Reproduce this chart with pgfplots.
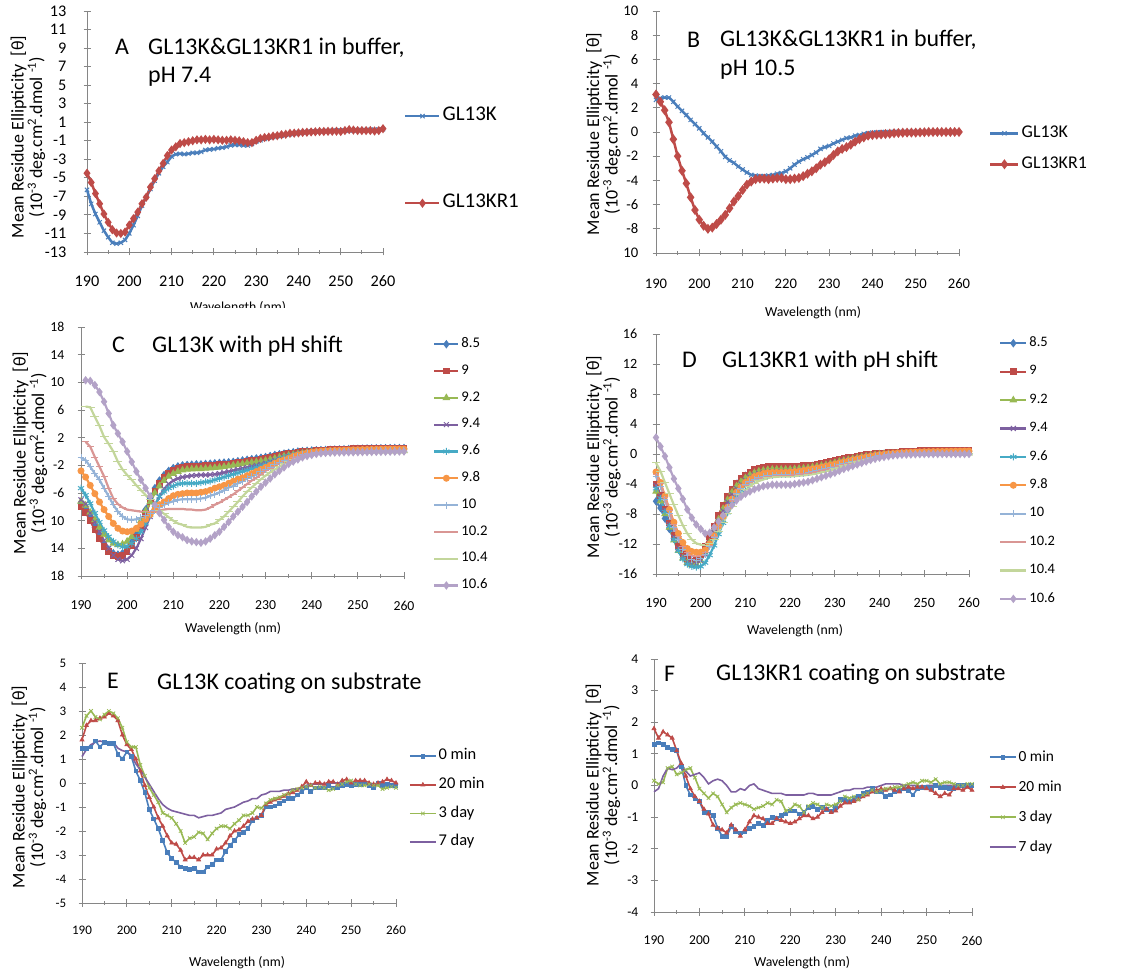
\documentclass[border=0pt]{standalone}
\usepackage{fontspec}
\setmainfont{Carlito}
\usepackage{pgfplots}
\pgfplotsset{compat=1.18}

\definecolor{axgray}{HTML}{868686}
\definecolor{cA}{HTML}{4A7EBB}
\definecolor{cB}{HTML}{BE4B48}
\definecolor{cC}{HTML}{98B954}
\definecolor{cD}{HTML}{7D60A0}
\definecolor{cE}{HTML}{46AAC5}
\definecolor{cF}{HTML}{F79646}
\definecolor{cG}{HTML}{95B3D7}
\definecolor{cH}{HTML}{D99694}
\definecolor{cI}{HTML}{C3D69B}
\definecolor{cJ}{HTML}{B3A2C7}

\newcommand\fs[1]{\fontsize{#1}{#1}\selectfont}
\newcommand\ylab{Mean Residue Ellipticity~~[θ]\\(10\textsuperscript{-3} deg.cm\textsuperscript{2}.dmol \textsuperscript{-1})}

\pgfplotsset{
  panel/.style={
    scale only axis, clip=false,
    axis lines=left,
    axis line style={-, draw=axgray, line width=0.9bp},
    tick style={draw=axgray, line width=0.9bp},
    tick align=center,
    major tick length=7bp, minor tick length=4bp,
    xmin=190, xmax=260, xtick={190,200,...,260}, minor x tick num=1,
    /pgf/number format/assume math mode=true,
    xticklabel style={anchor=center},
    yticklabel style={anchor=east, inner sep=0pt},
    legend cell align=left,
    legend style={draw=none, fill=none, inner sep=0pt, column sep=2bp},
  },
}
\tikzset{
  ttl/.style={anchor=base west, inner sep=0pt, font=\fontsize{24}{24}\selectfont},
  ylb/.style={rotate=90, align=center, inner sep=0pt, font=\fontsize{18}{18.5}\selectfont},
  xlb/.style={anchor=base, inner sep=0pt, font=\fs{13.8}},
}

\begin{document}
\begin{tikzpicture}
\useasboundingbox (0,0) rectangle (1139bp,973bp);

% ---------------- A ----------------
\begin{axis}[panel, at={(87bp,721bp)}, anchor=south west, width=296bp, height=241bp,
  ymin=-13, ymax=13, ytick={-13,-11,...,13},
  tick label style={font=\fs{16.3}},
  yticklabel style={xshift=-17bp}, xticklabel style={yshift=-26bp},
  legend style={at={(1.071,0.600)}, anchor=north west, font=\fs{21}, row sep=70bp,
    nodes={inner sep=0pt, text height=13.3bp, text depth=3.8bp}},
  legend image code/.code={\draw[mark repeat=2,mark phase=2,#1] plot coordinates {(0bp,0bp)(17bp,0bp)(34bp,0bp)};},
]
\addplot[cA, line width=2.5bp, mark=x, mark size=3, mark options={solid, line width=1bp}] coordinates {
(190,-6.3)(191,-7.8)(192,-8.9)(193,-9.8)(194,-10.7)(195,-11.4)(196,-12.0)(197,-12.1)(198,-12.0)(199,-11.7)
(200,-11.0)(201,-10.1)(202,-9.1)(203,-8.0)(204,-7.1)(205,-6.2)(206,-5.3)(207,-4.5)(208,-3.8)(209,-3.3)
(210,-2.7)(211,-2.45)(212,-2.4)(213,-2.45)(214,-2.4)(215,-2.3)(216,-2.3)(217,-2.2)(218,-2.0)(219,-1.95)
(220,-1.9)(221,-1.8)(222,-1.75)(223,-1.65)(224,-1.5)(225,-1.45)(226,-1.45)(227,-1.5)(228,-1.5)(229,-1.35)
(230,-1.1)(231,-0.95)(232,-0.8)(233,-0.65)(234,-0.6)(235,-0.5)(236,-0.45)(237,-0.35)(238,-0.3)(239,-0.2)
(240,-0.15)(241,-0.1)(242,-0.05)(243,0)(244,0)(245,0.02)(246,0.05)(247,0.05)(248,0.07)(249,0.1)
(250,0.1)(251,0.1)(252,0.12)(253,0.12)(254,0.15)(255,0.15)(256,0.15)(257,0.18)(258,0.2)(259,0.2)(260,0.25)};
\addplot[cB, line width=2.5bp, mark=diamond*, mark size=2.6, mark options={solid}] coordinates {
(190,-4.5)(191,-5.5)(192,-6.7)(193,-7.8)(194,-8.9)(195,-9.8)(196,-10.6)(197,-10.95)(198,-11.0)(199,-10.85)
(200,-10.1)(201,-9.4)(202,-8.7)(203,-7.8)(204,-7.1)(205,-6.0)(206,-5.1)(207,-4.25)(208,-3.45)(209,-2.6)
(210,-2.0)(211,-1.65)(212,-1.3)(213,-1.2)(214,-1.1)(215,-1.0)(216,-0.9)(217,-0.9)(218,-0.85)(219,-0.9)
(220,-0.85)(221,-0.9)(222,-0.95)(223,-0.95)(224,-0.9)(225,-0.95)(226,-1.0)(227,-1.1)(228,-1.2)(229,-1.2)
(230,-0.95)(231,-0.75)(232,-0.65)(233,-0.6)(234,-0.5)(235,-0.45)(236,-0.35)(237,-0.3)(238,-0.2)(239,-0.18)
(240,-0.15)(241,-0.1)(242,-0.08)(243,-0.05)(244,-0.03)(245,0)(246,0)(247,0.02)(248,0.02)(249,0.03)
(250,0)(251,0.1)(252,0.2)(253,0.15)(254,0.1)(255,0.1)(256,0.1)(257,0.1)(258,0.05)(259,0.1)(260,0.3)};
\legend{GL13K,GL13KR1}
\end{axis}

% ---------------- B ----------------
\begin{axis}[panel, at={(656bp,720bp)}, anchor=south west, width=303bp, height=242bp,
  ymin=-10, ymax=10, ytick={-10,-8,...,10}, yticklabels={10,-8,-6,-4,-2,0,2,4,6,8,10},
  tick label style={font=\fs{14.7}},
  yticklabel style={xshift=-14bp}, xticklabel style={yshift=-27bp},
  legend style={at={(1.099,0.529)}, anchor=north west, font=\fs{18}, row sep=14.8bp,
    nodes={inner sep=0pt, text height=12.6bp, text depth=3.6bp}},
  legend image code/.code={\draw[mark repeat=2,mark phase=2,#1] plot coordinates {(0bp,0bp)(14bp,0bp)(28bp,0bp)};},
]
\addplot[cA, line width=2.5bp, mark=x, mark size=3, mark options={solid, line width=1bp}] coordinates {
(190,2.65)(191,2.8)(192,2.85)(193,2.85)(194,2.5)(195,2.1)(196,1.75)(197,1.4)(198,1.0)(199,0.65)
(200,0.3)(201,-0.1)(202,-0.45)(203,-0.8)(204,-1.2)(205,-1.6)(206,-2.05)(207,-2.35)(208,-2.55)(209,-2.85)
(210,-3.1)(211,-3.35)(212,-3.55)(213,-3.6)(214,-3.65)(215,-3.65)(216,-3.6)(217,-3.55)(218,-3.45)(219,-3.4)
(220,-3.25)(221,-3.0)(222,-2.7)(223,-2.45)(224,-2.25)(225,-2.1)(226,-1.9)(227,-1.7)(228,-1.4)(229,-1.25)
(230,-1.15)(231,-0.95)(232,-0.8)(233,-0.65)(234,-0.5)(235,-0.45)(236,-0.3)(237,-0.25)(238,-0.15)(239,-0.1)
(240,-0.05)(241,-0.03)(242,-0.02)(243,0)(244,0)(245,0)(246,0)(247,0)(248,0)(249,0)
(250,0)(251,0)(252,0)(253,0)(254,0)(255,0)(256,0)(257,0)(258,0)(259,0)(260,0)};
\addplot[cB, line width=2.5bp, mark=diamond*, mark size=3, mark options={solid}] coordinates {
(190,3.1)(191,2.5)(192,1.8)(193,0.8)(194,-0.6)(195,-2.0)(196,-3.2)(197,-4.25)(198,-5.4)(199,-6.45)
(200,-7.25)(201,-7.75)(202,-8.0)(203,-7.9)(204,-7.6)(205,-7.25)(206,-6.85)(207,-6.3)(208,-5.75)(209,-5.3)
(210,-4.8)(211,-4.35)(212,-4.1)(213,-3.9)(214,-3.85)(215,-3.85)(216,-3.9)(217,-3.85)(218,-3.8)(219,-3.8)
(220,-3.9)(221,-3.9)(222,-3.85)(223,-3.8)(224,-3.65)(225,-3.45)(226,-3.25)(227,-3.0)(228,-2.7)(229,-2.5)
(230,-2.25)(231,-1.9)(232,-1.6)(233,-1.4)(234,-1.25)(235,-1.05)(236,-0.8)(237,-0.6)(238,-0.45)(239,-0.3)
(240,-0.25)(241,-0.22)(242,-0.2)(243,-0.17)(244,-0.14)(245,-0.1)(246,-0.08)(247,-0.06)(248,-0.05)(249,-0.05)
(250,-0.05)(251,-0.03)(252,-0.02)(253,0)(254,0)(255,0)(256,0)(257,0)(258,0)(259,0)(260,0)};
\legend{GL13K,GL13KR1}
\end{axis}

% ---------------- C ----------------
\begin{axis}[panel, at={(81bp,397bp)}, anchor=south west, width=323bp, height=249bp,
  ymin=-18, ymax=18, ytick={-18,-14,...,18}, yticklabels={18,14,10,-6,-2,2,6,10,14,18},
  tick label style={font=\fs{13.8}},
  yticklabel style={xshift=-13bp}, xticklabel style={yshift=-26bp},
  legend style={at={(1.090,0.955)}, anchor=north west, font=\fs{14.8}, row sep=15.1bp,
    nodes={inner sep=0pt, text height=9.1bp, text depth=2.6bp}},
  legend image code/.code={\draw[mark repeat=2,mark phase=2,#1] plot coordinates {(0bp,0bp)(12bp,0bp)(24bp,0bp)};},
  every axis plot/.append style={line width=2.2bp, mark options={solid, line width=1bp}},
]
\addplot[cA, mark=diamond*, mark size=3.5] coordinates {
(190,-7.6)(191,-8.5)(192,-9.7)(193,-11.0)(194,-12.3)(195,-13.4)(196,-14.2)(197,-14.7)(198,-14.9)(199,-14.7)
(200,-14.1)(201,-13.1)(202,-11.8)(203,-10.2)(204,-8.4)(205,-6.8)(206,-5.3)(207,-4.2)(208,-3.4)(209,-2.8)
(210,-2.4)(211,-2.15)(212,-2.0)(213,-1.95)(214,-1.9)(215,-1.85)(216,-1.85)(217,-1.8)(218,-1.75)(219,-1.7)
(220,-1.65)(221,-1.6)(222,-1.55)(223,-1.5)(224,-1.4)(225,-1.3)(226,-1.2)(227,-1.1)(228,-1.0)(229,-0.9)
(230,-0.8)(231,-0.65)(232,-0.5)(233,-0.4)(234,-0.3)(235,-0.2)(236,-0.1)(237,0)(238,0.05)(239,0.1)
(240,0.15)(241,0.18)(242,0.2)(243,0.22)(244,0.25)(245,0.28)(246,0.3)(247,0.32)(248,0.35)(249,0.38)
(250,0.4)(251,0.42)(252,0.44)(253,0.45)(254,0.46)(255,0.47)(256,0.48)(257,0.49)(258,0.5)(259,0.5)(260,0.5)};
\addplot[cB, mark=square*, mark size=2.8] coordinates {
(190,-8.0)(191,-8.8)(192,-10.0)(193,-11.3)(194,-12.6)(195,-13.7)(196,-14.5)(197,-15.0)(198,-15.2)(199,-15.0)
(200,-14.5)(201,-13.6)(202,-12.4)(203,-10.8)(204,-9.0)(205,-7.3)(206,-5.8)(207,-4.6)(208,-3.7)(209,-3.1)
(210,-2.7)(211,-2.4)(212,-2.25)(213,-2.2)(214,-2.15)(215,-2.1)(216,-2.1)(217,-2.05)(218,-2.0)(219,-1.95)
(220,-1.9)(221,-1.85)(222,-1.8)(223,-1.7)(224,-1.6)(225,-1.5)(226,-1.4)(227,-1.3)(228,-1.2)(229,-1.1)
(230,-1.0)(231,-0.85)(232,-0.7)(233,-0.55)(234,-0.4)(235,-0.3)(236,-0.2)(237,-0.1)(238,0)(239,0.05)
(240,0.1)(241,0.14)(242,0.18)(243,0.22)(244,0.26)(245,0.3)(246,0.33)(247,0.36)(248,0.38)(249,0.4)
(250,0.42)(251,0.44)(252,0.46)(253,0.47)(254,0.48)(255,0.49)(256,0.5)(257,0.5)(258,0.5)(259,0.5)(260,0.5)};
\addplot[cC, mark=triangle*, mark size=3.5] coordinates {
(190,-7.2)(191,-7.8)(192,-8.8)(193,-9.9)(194,-11.0)(195,-12.0)(196,-12.8)(197,-13.3)(198,-13.5)(199,-13.4)
(200,-13.0)(201,-12.3)(202,-11.3)(203,-10.0)(204,-8.6)(205,-7.3)(206,-6.0)(207,-5.0)(208,-4.2)(209,-3.6)
(210,-3.2)(211,-2.9)(212,-2.7)(213,-2.6)(214,-2.55)(215,-2.5)(216,-2.5)(217,-2.45)(218,-2.4)(219,-2.35)
(220,-2.3)(221,-2.2)(222,-2.1)(223,-2.0)(224,-1.9)(225,-1.8)(226,-1.7)(227,-1.6)(228,-1.5)(229,-1.4)
(230,-1.3)(231,-1.15)(232,-1.0)(233,-0.85)(234,-0.7)(235,-0.55)(236,-0.45)(237,-0.35)(238,-0.25)(239,-0.15)
(240,-0.1)(241,-0.08)(242,-0.06)(243,-0.04)(244,-0.02)(245,0)(246,0.01)(247,0.02)(248,0.03)(249,0.04)
(250,0.05)(251,0.06)(252,0.07)(253,0.08)(254,0.08)(255,0.09)(256,0.09)(257,0.1)(258,0.1)(259,0.1)(260,0.1)};
\addplot[cD, mark=x, mark size=3.5] coordinates {
(190,-7.0)(191,-7.6)(192,-8.9)(193,-10.2)(194,-11.6)(195,-12.9)(196,-14.0)(197,-15.0)(198,-15.6)(199,-15.8)
(200,-15.6)(201,-15.0)(202,-14.0)(203,-12.6)(204,-11.0)(205,-9.4)(206,-7.9)(207,-6.5)(208,-5.4)(209,-4.7)
(210,-4.2)(211,-3.9)(212,-3.7)(213,-3.6)(214,-3.5)(215,-3.45)(216,-3.4)(217,-3.4)(218,-3.35)(219,-3.3)
(220,-3.2)(221,-3.05)(222,-2.9)(223,-2.75)(224,-2.6)(225,-2.45)(226,-2.3)(227,-2.15)(228,-2.0)(229,-1.85)
(230,-1.7)(231,-1.5)(232,-1.3)(233,-1.1)(234,-0.9)(235,-0.7)(236,-0.55)(237,-0.4)(238,-0.3)(239,-0.2)
(240,-0.1)(241,-0.05)(242,0)(243,0.03)(244,0.06)(245,0.1)(246,0.12)(247,0.14)(248,0.16)(249,0.18)
(250,0.2)(251,0.21)(252,0.22)(253,0.23)(254,0.24)(255,0.25)(256,0.25)(257,0.25)(258,0.25)(259,0.25)(260,0.25)};
\addplot[cE, mark=asterisk, mark size=3.5] coordinates {
(190,-5.3)(191,-6.3)(192,-7.5)(193,-8.9)(194,-10.2)(195,-11.4)(196,-12.3)(197,-13.0)(198,-13.5)(199,-13.8)
(200,-13.7)(201,-13.3)(202,-12.6)(203,-11.6)(204,-10.4)(205,-9.2)(206,-7.7)(207,-6.5)(208,-5.8)(209,-5.3)
(210,-5.0)(211,-4.7)(212,-4.6)(213,-4.6)(214,-4.6)(215,-4.6)(216,-4.5)(217,-4.4)(218,-4.3)(219,-4.1)
(220,-3.9)(221,-3.7)(222,-3.5)(223,-3.3)(224,-3.1)(225,-2.9)(226,-2.7)(227,-2.5)(228,-2.3)(229,-2.1)
(230,-1.9)(231,-1.65)(232,-1.4)(233,-1.15)(234,-0.9)(235,-0.7)(236,-0.55)(237,-0.4)(238,-0.25)(239,-0.15)
(240,-0.05)(241,-0.02)(242,0)(243,0.03)(244,0.06)(245,0.1)(246,0.11)(247,0.12)(248,0.13)(249,0.14)
(250,0.15)(251,0.16)(252,0.17)(253,0.18)(254,0.18)(255,0.19)(256,0.19)(257,0.2)(258,0.2)(259,0.2)(260,0.2)};
\addplot[cF, mark=*, mark size=3] coordinates {
(190,-2.8)(191,-3.7)(192,-4.9)(193,-6.1)(194,-7.3)(195,-8.4)(196,-9.4)(197,-10.4)(198,-11.1)(199,-11.5)
(200,-11.6)(201,-11.5)(202,-11.1)(203,-10.5)(204,-9.8)(205,-9.1)(206,-8.4)(207,-7.7)(208,-7.3)(209,-6.8)
(210,-6.4)(211,-6.2)(212,-6.1)(213,-6.0)(214,-6.0)(215,-6.0)(216,-5.9)(217,-5.8)(218,-5.6)(219,-5.3)
(220,-5.1)(221,-4.9)(222,-4.6)(223,-4.3)(224,-4.0)(225,-3.8)(226,-3.5)(227,-3.2)(228,-2.9)(229,-2.6)
(230,-2.3)(231,-2.0)(232,-1.7)(233,-1.4)(234,-1.2)(235,-1.0)(236,-0.7)(237,-0.5)(238,-0.35)(239,-0.2)
(240,-0.1)(241,-0.02)(242,0.05)(243,0.08)(244,0.12)(245,0.15)(246,0.17)(247,0.19)(248,0.21)(249,0.23)
(250,0.25)(251,0.27)(252,0.29)(253,0.3)(254,0.32)(255,0.33)(256,0.34)(257,0.35)(258,0.35)(259,0.35)(260,0.35)};
\addplot[cG, mark=+, mark size=3.5] coordinates {
(190,-0.9)(191,-1.25)(192,-2.2)(193,-3.2)(194,-4.1)(195,-5.3)(196,-6.5)(197,-7.7)(198,-8.7)(199,-9.4)
(200,-9.8)(201,-9.9)(202,-9.8)(203,-9.6)(204,-9.3)(205,-9.0)(206,-8.6)(207,-8.1)(208,-7.7)(209,-7.4)
(210,-7.2)(211,-7.0)(212,-6.9)(213,-6.9)(214,-6.9)(215,-6.9)(216,-6.8)(217,-6.7)(218,-6.4)(219,-6.2)
(220,-5.9)(221,-5.6)(222,-5.2)(223,-5.0)(224,-4.6)(225,-4.3)(226,-3.9)(227,-3.6)(228,-3.3)(229,-2.9)
(230,-2.6)(231,-2.3)(232,-1.9)(233,-1.6)(234,-1.35)(235,-1.1)(236,-0.9)(237,-0.7)(238,-0.5)(239,-0.35)
(240,-0.25)(241,-0.18)(242,-0.1)(243,-0.06)(244,-0.03)(245,0)(246,0.01)(247,0.02)(248,0.03)(249,0.04)
(250,0.05)(251,0.06)(252,0.07)(253,0.08)(254,0.08)(255,0.09)(256,0.09)(257,0.1)(258,0.1)(259,0.1)(260,0.1)};
\addplot[cH, mark=-, mark size=3.5] coordinates {
(191,1.4)(192,0.7)(193,-0.8)(194,-2.2)(195,-3.6)(196,-5.3)(197,-6.8)(198,-7.6)(199,-8.1)
(200,-8.4)(201,-8.5)(202,-8.6)(203,-8.7)(204,-8.7)(205,-8.7)(206,-8.7)(207,-8.5)(208,-8.4)(209,-8.3)
(210,-8.3)(211,-8.3)(212,-8.3)(213,-8.4)(214,-8.4)(215,-8.5)(216,-8.5)(217,-8.4)(218,-8.1)(219,-7.7)
(220,-7.4)(221,-7.0)(222,-6.6)(223,-6.2)(224,-5.7)(225,-5.2)(226,-4.7)(227,-4.2)(228,-3.8)(229,-3.3)
(230,-2.8)(231,-2.4)(232,-2.1)(233,-1.7)(234,-1.4)(235,-1.15)(236,-0.9)(237,-0.7)(238,-0.6)(239,-0.45)
(240,-0.35)(241,-0.28)(242,-0.2)(243,-0.16)(244,-0.13)(245,-0.1)(246,-0.09)(247,-0.08)(248,-0.07)(249,-0.06)
(250,-0.05)(251,-0.03)(252,-0.01)(253,0.01)(254,0.03)(255,0.05)(256,0.06)(257,0.07)(258,0.08)(259,0.09)(260,0.1)};
\addplot[cI, mark=-, mark size=4.5] coordinates {
(191,6.5)(192,6.4)(193,5.0)(194,3.7)(195,2.1)(196,1.1)(197,0)(198,-1.5)(199,-2.6)
(200,-3.4)(201,-4.1)(202,-4.9)(203,-5.6)(204,-6.3)(205,-7.0)(206,-7.7)(207,-8.5)(208,-9.0)(209,-9.5)
(210,-10.0)(211,-10.4)(212,-10.6)(213,-10.9)(214,-11.0)(215,-11.0)(216,-11.0)(217,-10.9)(218,-10.6)(219,-10.4)
(220,-9.9)(221,-9.4)(222,-8.7)(223,-8.0)(224,-7.3)(225,-6.5)(226,-5.8)(227,-5.2)(228,-4.6)(229,-4.0)
(230,-3.5)(231,-3.0)(232,-2.6)(233,-2.2)(234,-1.8)(235,-1.5)(236,-1.2)(237,-1.0)(238,-0.8)(239,-0.6)
(240,-0.45)(241,-0.38)(242,-0.3)(243,-0.27)(244,-0.23)(245,-0.2)(246,-0.19)(247,-0.18)(248,-0.17)(249,-0.16)
(250,-0.15)(251,-0.14)(252,-0.14)(253,-0.13)(254,-0.13)(255,-0.12)(256,-0.12)(257,-0.11)(258,-0.11)(259,-0.1)(260,-0.1)};
\addplot[cJ, mark=diamond*, mark size=3.5] coordinates {
(191,10.3)(192,10.2)(193,9.6)(194,8.6)(195,7.2)(196,5.5)(197,3.8)(198,2.6)(199,1.4)
(200,0)(201,-1.5)(202,-2.9)(203,-4.1)(204,-5.3)(205,-6.5)(206,-7.7)(207,-8.9)(208,-9.9)(209,-10.9)
(210,-11.6)(211,-12.1)(212,-12.4)(213,-12.8)(214,-13.0)(215,-13.1)(216,-13.2)(217,-13.0)(218,-12.6)(219,-12.1)
(220,-11.6)(221,-10.9)(222,-10.2)(223,-9.4)(224,-8.7)(225,-8.0)(226,-7.3)(227,-6.5)(228,-5.8)(229,-5.1)
(230,-4.5)(231,-3.9)(232,-3.3)(233,-2.8)(234,-2.3)(235,-1.8)(236,-1.45)(237,-1.15)(238,-0.85)(239,-0.65)
(240,-0.5)(241,-0.35)(242,-0.25)(243,-0.2)(244,-0.17)(245,-0.15)(246,-0.14)(247,-0.13)(248,-0.12)(249,-0.11)
(250,-0.1)(251,-0.09)(252,-0.08)(253,-0.07)(254,-0.06)(255,-0.05)(256,-0.04)(257,-0.03)(258,-0.02)(259,-0.01)(260,0)};
\legend{8.5,9,9.2,9.4,9.6,9.8,10,10.2,10.4,10.6}
\end{axis}

% ---------------- D ----------------
\begin{axis}[panel, at={(656bp,399bp)}, anchor=south west, width=313bp, height=240bp,
  ymin=-16, ymax=16, ytick={-16,-12,...,16},
  tick label style={font=\fs{14.2}},
  yticklabel style={xshift=-15bp}, xticklabel style={yshift=-25bp},
  legend style={at={(1.096,0.987)}, anchor=north west, font=\fs{14.5}, row sep=16.5bp,
    nodes={inner sep=0pt, text height=9.2bp, text depth=2.7bp}},
  legend image code/.code={\draw[mark repeat=2,mark phase=2,#1] plot coordinates {(0bp,0bp)(13bp,0bp)(26bp,0bp)};},
  every axis plot/.append style={line width=2.2bp, mark options={solid, line width=1bp}},
]
\addplot[cA, mark=diamond*, mark size=3.5] coordinates {
(190,-6.3)(191,-7.2)(192,-8.6)(193,-10.0)(194,-11.3)(195,-12.5)(196,-13.5)(197,-14.2)(198,-14.4)(199,-14.2)
(200,-13.6)(201,-12.6)(202,-11.3)(203,-9.8)(204,-8.3)(205,-7.0)(206,-5.8)(207,-4.8)(208,-4.0)(209,-3.4)
(210,-2.9)(211,-2.6)(212,-2.3)(213,-2.1)(214,-2.0)(215,-1.9)(216,-1.85)(217,-1.85)(218,-1.85)(219,-1.85)
(220,-1.85)(221,-1.8)(222,-1.75)(223,-1.7)(224,-1.65)(225,-1.6)(226,-1.5)(227,-1.4)(228,-1.3)(229,-1.2)
(230,-1.05)(231,-0.9)(232,-0.8)(233,-0.7)(234,-0.6)(235,-0.5)(236,-0.4)(237,-0.3)(238,-0.2)(239,-0.1)
(240,0)(241,0.03)(242,0.06)(243,0.09)(244,0.12)(245,0.15)(246,0.18)(247,0.2)(248,0.22)(249,0.24)
(250,0.26)(251,0.27)(252,0.28)(253,0.29)(254,0.3)(255,0.3)(256,0.3)(257,0.3)(258,0.3)(259,0.3)(260,0.3)};
\addplot[cB, mark=square*, mark size=2.8] coordinates {
(190,-4.0)(191,-5.5)(192,-7.4)(193,-9.2)(194,-10.9)(195,-12.3)(196,-13.4)(197,-14.1)(198,-14.3)(199,-14.1)
(200,-13.4)(201,-12.3)(202,-11.0)(203,-9.6)(204,-8.2)(205,-6.9)(206,-5.7)(207,-4.7)(208,-3.9)(209,-3.3)
(210,-2.8)(211,-2.4)(212,-2.1)(213,-1.9)(214,-1.8)(215,-1.7)(216,-1.7)(217,-1.7)(218,-1.7)(219,-1.7)
(220,-1.7)(221,-1.65)(222,-1.6)(223,-1.55)(224,-1.5)(225,-1.45)(226,-1.35)(227,-1.25)(228,-1.15)(229,-1.0)
(230,-0.85)(231,-0.7)(232,-0.6)(233,-0.5)(234,-0.4)(235,-0.3)(236,-0.2)(237,-0.1)(238,0)(239,0.05)
(240,0.1)(241,0.14)(242,0.18)(243,0.22)(244,0.26)(245,0.3)(246,0.34)(247,0.38)(248,0.42)(249,0.46)
(250,0.5)(251,0.5)(252,0.5)(253,0.5)(254,0.5)(255,0.5)(256,0.5)(257,0.5)(258,0.5)(259,0.5)(260,0.5)};
\addplot[cC, mark=triangle*, mark size=3.5] coordinates {
(190,-5.0)(191,-6.3)(192,-8.0)(193,-9.8)(194,-11.5)(195,-12.9)(196,-13.9)(197,-14.5)(198,-14.8)(199,-14.7)
(200,-14.2)(201,-13.2)(202,-11.8)(203,-10.2)(204,-8.7)(205,-7.3)(206,-6.1)(207,-5.1)(208,-4.3)(209,-3.7)
(210,-3.2)(211,-2.8)(212,-2.5)(213,-2.3)(214,-2.2)(215,-2.1)(216,-2.05)(217,-2.05)(218,-2.05)(219,-2.05)
(220,-2.05)(221,-2.0)(222,-1.95)(223,-1.9)(224,-1.85)(225,-1.75)(226,-1.65)(227,-1.55)(228,-1.45)(229,-1.3)
(230,-1.15)(231,-1.0)(232,-0.88)(233,-0.76)(234,-0.64)(235,-0.52)(236,-0.4)(237,-0.3)(238,-0.2)(239,-0.1)
(240,-0.05)(241,0)(242,0.02)(243,0.04)(244,0.05)(245,0.06)(246,0.07)(247,0.08)(248,0.09)(249,0.1)
(250,0.1)(251,0.1)(252,0.1)(253,0.1)(254,0.1)(255,0.1)(256,0.1)(257,0.1)(258,0.1)(259,0.1)(260,0.1)};
\addplot[cD, mark=x, mark size=3.5] coordinates {
(190,-4.2)(191,-5.6)(192,-7.5)(193,-9.4)(194,-11.1)(195,-12.6)(196,-13.7)(197,-14.4)(198,-14.7)(199,-14.6)
(200,-14.2)(201,-13.3)(202,-12.0)(203,-10.5)(204,-9.0)(205,-7.6)(206,-6.4)(207,-5.4)(208,-4.6)(209,-4.0)
(210,-3.5)(211,-3.1)(212,-2.8)(213,-2.6)(214,-2.5)(215,-2.4)(216,-2.35)(217,-2.35)(218,-2.35)(219,-2.35)
(220,-2.3)(221,-2.25)(222,-2.2)(223,-2.1)(224,-2.0)(225,-1.9)(226,-1.8)(227,-1.7)(228,-1.55)(229,-1.4)
(230,-1.25)(231,-1.1)(232,-0.95)(233,-0.82)(234,-0.7)(235,-0.58)(236,-0.46)(237,-0.35)(238,-0.25)(239,-0.15)
(240,-0.08)(241,-0.02)(242,0.02)(243,0.05)(244,0.08)(245,0.1)(246,0.12)(247,0.14)(248,0.16)(249,0.18)
(250,0.2)(251,0.2)(252,0.2)(253,0.2)(254,0.2)(255,0.2)(256,0.2)(257,0.2)(258,0.2)(259,0.2)(260,0.2)};
\addplot[cE, mark=asterisk, mark size=3.5] coordinates {
(190,-4.6)(191,-5.9)(192,-7.7)(193,-9.6)(194,-11.4)(195,-12.9)(196,-14.0)(197,-14.7)(198,-15.0)(199,-15.1)
(200,-15.0)(201,-14.5)(202,-13.5)(203,-12.2)(204,-10.7)(205,-9.2)(206,-7.8)(207,-6.6)(208,-5.6)(209,-4.8)
(210,-4.2)(211,-3.7)(212,-3.3)(213,-3.0)(214,-2.8)(215,-2.7)(216,-2.6)(217,-2.6)(218,-2.6)(219,-2.6)
(220,-2.55)(221,-2.5)(222,-2.45)(223,-2.35)(224,-2.25)(225,-2.15)(226,-2.0)(227,-1.85)(228,-1.7)(229,-1.55)
(230,-1.4)(231,-1.25)(232,-1.1)(233,-0.95)(234,-0.8)(235,-0.66)(236,-0.53)(237,-0.41)(238,-0.3)(239,-0.2)
(240,-0.12)(241,-0.06)(242,-0.02)(243,0.02)(244,0.05)(245,0.08)(246,0.1)(247,0.11)(248,0.12)(249,0.13)
(250,0.14)(251,0.15)(252,0.15)(253,0.15)(254,0.15)(255,0.15)(256,0.15)(257,0.15)(258,0.15)(259,0.15)(260,0.15)};
\addplot[cF, mark=*, mark size=3] coordinates {
(190,-2.4)(191,-3.8)(192,-5.6)(193,-7.4)(194,-9.1)(195,-10.6)(196,-11.8)(197,-12.6)(198,-13.0)(199,-13.1)
(200,-13.1)(201,-12.8)(202,-12.0)(203,-10.9)(204,-9.6)(205,-8.3)(206,-7.1)(207,-6.0)(208,-5.1)(209,-4.4)
(210,-3.8)(211,-3.4)(212,-3.0)(213,-2.8)(214,-2.6)(215,-2.5)(216,-2.45)(217,-2.45)(218,-2.45)(219,-2.45)
(220,-2.4)(221,-2.35)(222,-2.3)(223,-2.2)(224,-2.1)(225,-2.0)(226,-1.88)(227,-1.76)(228,-1.62)(229,-1.48)
(230,-1.34)(231,-1.2)(232,-1.06)(233,-0.92)(234,-0.78)(235,-0.65)(236,-0.52)(237,-0.4)(238,-0.3)(239,-0.2)
(240,-0.1)(241,-0.04)(242,0.02)(243,0.07)(244,0.12)(245,0.16)(246,0.2)(247,0.23)(248,0.26)(249,0.28)
(250,0.3)(251,0.31)(252,0.32)(253,0.33)(254,0.34)(255,0.35)(256,0.36)(257,0.37)(258,0.38)(259,0.39)(260,0.4)};
\addplot[cG, mark=+, mark size=3.5] coordinates {
(190,-3.0)(191,-4.3)(192,-6.1)(193,-8.0)(194,-9.8)(195,-11.4)(196,-12.7)(197,-13.6)(198,-14.1)(199,-14.2)
(200,-14.0)(201,-13.4)(202,-12.4)(203,-11.1)(204,-9.7)(205,-8.3)(206,-7.1)(207,-6.1)(208,-5.3)(209,-4.6)
(210,-4.1)(211,-3.7)(212,-3.4)(213,-3.2)(214,-3.0)(215,-2.9)(216,-2.85)(217,-2.8)(218,-2.8)(219,-2.8)
(220,-2.75)(221,-2.7)(222,-2.62)(223,-2.54)(224,-2.45)(225,-2.35)(226,-2.22)(227,-2.08)(228,-1.93)(229,-1.78)
(230,-1.62)(231,-1.46)(232,-1.3)(233,-1.14)(234,-0.98)(235,-0.83)(236,-0.69)(237,-0.56)(238,-0.44)(239,-0.33)
(240,-0.24)(241,-0.16)(242,-0.1)(243,-0.05)(244,-0.01)(245,0.02)(246,0.04)(247,0.06)(248,0.08)(249,0.09)
(250,0.1)(251,0.1)(252,0.1)(253,0.1)(254,0.1)(255,0.1)(256,0.1)(257,0.1)(258,0.1)(259,0.1)(260,0.1)};
\addplot[cH, mark=-, mark size=3.5] coordinates {
(190,-2.8)(191,-4.0)(192,-5.8)(193,-7.6)(194,-9.4)(195,-11.0)(196,-12.3)(197,-13.2)(198,-13.6)(199,-13.7)
(200,-13.6)(201,-13.1)(202,-12.2)(203,-11.0)(204,-9.7)(205,-8.4)(206,-7.2)(207,-6.2)(208,-5.4)(209,-4.7)
(210,-4.2)(211,-3.8)(212,-3.5)(213,-3.3)(214,-3.1)(215,-3.0)(216,-2.95)(217,-2.9)(218,-2.9)(219,-2.9)
(220,-2.85)(221,-2.8)(222,-2.72)(223,-2.64)(224,-2.55)(225,-2.45)(226,-2.32)(227,-2.18)(228,-2.03)(229,-1.88)
(230,-1.72)(231,-1.56)(232,-1.4)(233,-1.24)(234,-1.08)(235,-0.93)(236,-0.79)(237,-0.66)(238,-0.54)(239,-0.43)
(240,-0.34)(241,-0.26)(242,-0.19)(243,-0.13)(244,-0.08)(245,-0.04)(246,-0.01)(247,0.01)(248,0.03)(249,0.04)
(250,0.05)(251,0.06)(252,0.07)(253,0.08)(254,0.08)(255,0.09)(256,0.09)(257,0.1)(258,0.1)(259,0.1)(260,0.1)};
\addplot[cI, mark=-, mark size=4.5] coordinates {
(190,-1.2)(191,-2.3)(192,-3.8)(193,-5.3)(194,-6.8)(195,-8.2)(196,-9.5)(197,-10.6)(198,-11.4)(199,-11.9)
(200,-12.1)(201,-12.2)(202,-12.0)(203,-11.4)(204,-10.4)(205,-9.2)(206,-8.0)(207,-7.0)(208,-6.1)(209,-5.4)
(210,-4.8)(211,-4.3)(212,-3.9)(213,-3.6)(214,-3.4)(215,-3.2)(216,-3.1)(217,-3.05)(218,-3.0)(219,-3.0)
(220,-3.0)(221,-2.95)(222,-2.9)(223,-2.85)(224,-2.8)(225,-2.7)(226,-2.6)(227,-2.45)(228,-2.3)(229,-2.15)
(230,-2.0)(231,-1.8)(232,-1.6)(233,-1.4)(234,-1.2)(235,-1.0)(236,-0.85)(237,-0.7)(238,-0.55)(239,-0.45)
(240,-0.35)(241,-0.28)(242,-0.22)(243,-0.17)(244,-0.13)(245,-0.1)(246,-0.07)(247,-0.05)(248,-0.03)(249,-0.01)
(250,0)(251,0.01)(252,0.02)(253,0.03)(254,0.04)(255,0.05)(256,0.06)(257,0.07)(258,0.08)(259,0.09)(260,0.1)};
\addplot[cJ, mark=diamond*, mark size=3.5] coordinates {
(190,2.2)(191,1.0)(192,-0.3)(193,-1.8)(194,-3.3)(195,-4.6)(196,-6.0)(197,-7.4)(198,-8.5)(199,-9.4)
(200,-10.0)(201,-10.6)(202,-10.5)(203,-9.8)(204,-9.0)(205,-8.2)(206,-7.4)(207,-6.8)(208,-6.2)(209,-5.7)
(210,-5.3)(211,-5.0)(212,-4.7)(213,-4.5)(214,-4.3)(215,-4.2)(216,-4.1)(217,-4.1)(218,-4.1)(219,-4.1)
(220,-4.1)(221,-4.0)(222,-3.9)(223,-3.8)(224,-3.7)(225,-3.5)(226,-3.3)(227,-3.1)(228,-2.9)(229,-2.7)
(230,-2.5)(231,-2.25)(232,-2.0)(233,-1.8)(234,-1.6)(235,-1.4)(236,-1.2)(237,-1.0)(238,-0.8)(239,-0.65)
(240,-0.5)(241,-0.4)(242,-0.3)(243,-0.2)(244,-0.15)(245,-0.1)(246,-0.08)(247,-0.06)(248,-0.04)(249,-0.02)
(250,0)(251,0)(252,0)(253,0)(254,0)(255,0)(256,0)(257,0)(258,0)(259,0)(260,0)};
\legend{8.5,9,9.2,9.4,9.6,9.8,10,10.2,10.4,10.6}
\end{axis}

% ---------------- E ----------------
\begin{axis}[panel, at={(82bp,70bp)}, anchor=south west, width=314bp, height=240bp,
  ymin=-5, ymax=5, ytick={-5,...,5},
  tick label style={font=\fs{13.1}},
  yticklabel style={xshift=-12bp}, xticklabel style={yshift=-24bp},
  legend style={at={(1.041,0.641)}, anchor=north west, font=\fs{16.5}, row sep=15.2bp,
    nodes={inner sep=0pt, text height=10.5bp, text depth=3bp}},
  legend image code/.code={\draw[mark repeat=2,mark phase=2,#1] plot coordinates {(0bp,0bp)(13bp,0bp)(26bp,0bp)};},
  every axis plot/.append style={line width=1.6bp, mark options={solid, line width=0.8bp}},
]
\addplot[cA, mark=square*, mark size=1.9] coordinates {
(190,1.45)(191,1.45)(192,1.5)(193,1.75)(194,1.5)(195,1.7)(196,1.65)(197,1.65)(198,1.2)(199,1.0)
(200,1.3)(201,1.1)(202,0.5)(203,0.1)(204,-0.4)(205,-1.1)(206,-1.5)(207,-1.9)(208,-2.4)(209,-2.9)
(210,-3.15)(211,-3.3)(212,-3.5)(213,-3.55)(214,-3.6)(215,-3.55)(216,-3.7)(217,-3.7)(218,-3.5)(219,-3.4)
(220,-3.2)(221,-3.2)(222,-2.85)(223,-2.6)(224,-2.4)(225,-2.15)(226,-2.05)(227,-1.9)(228,-1.55)(229,-1.45)
(230,-1.35)(231,-1.0)(232,-1.0)(233,-0.95)(234,-0.85)(235,-0.75)(236,-0.65)(237,-0.65)(238,-0.5)(239,-0.35)
(240,-0.2)(241,-0.35)(242,-0.2)(243,-0.2)(244,-0.2)(245,-0.1)(246,-0.2)(247,-0.2)(248,-0.1)(249,-0.05)
(250,-0.1)(251,-0.05)(252,-0.05)(253,0)(254,-0.1)(255,-0.2)(256,0)(257,-0.1)(258,-0.05)(259,-0.1)(260,-0.1)};
\addplot[cB, mark=triangle*, mark size=2.2] coordinates {
(190,1.8)(191,2.4)(192,2.6)(193,2.6)(194,2.7)(195,2.75)(196,2.9)(197,2.8)(198,2.6)(199,2.0)
(200,1.6)(201,1.4)(202,1.0)(203,0.5)(204,-0.1)(205,-0.6)(206,-1.0)(207,-1.45)(208,-1.8)(209,-2.2)
(210,-2.5)(211,-2.55)(212,-2.8)(213,-3.2)(214,-3.1)(215,-3.1)(216,-3.2)(217,-3.0)(218,-3.0)(219,-3.0)
(220,-2.75)(221,-2.7)(222,-2.5)(223,-2.2)(224,-2.0)(225,-1.95)(226,-1.8)(227,-1.6)(228,-1.5)(229,-1.45)
(230,-1.35)(231,-0.9)(232,-0.8)(233,-0.7)(234,-0.65)(235,-0.55)(236,-0.45)(237,-0.4)(238,-0.3)(239,-0.15)
(240,0.05)(241,-0.1)(242,0)(243,0)(244,-0.05)(245,0.05)(246,0.05)(247,-0.05)(248,0.1)(249,0.15)
(250,0)(251,0.1)(252,0.1)(253,0.1)(254,0)(255,-0.05)(256,0)(257,0.05)(258,0.15)(259,0.1)(260,0)};
\addplot[cC, mark=x, mark size=2.5] coordinates {
(190,2.3)(191,2.8)(192,3.0)(193,2.75)(194,2.65)(195,2.85)(196,3.0)(197,2.9)(198,2.7)(199,2.3)
(200,1.7)(201,1.5)(202,1.5)(203,0.75)(204,0.3)(205,-0.2)(206,-0.5)(207,-0.8)(208,-1.25)(209,-1.35)
(210,-1.45)(211,-1.7)(212,-2.0)(213,-2.5)(214,-2.3)(215,-2.25)(216,-2.05)(217,-2.1)(218,-2.35)(219,-2.1)
(220,-1.9)(221,-1.8)(222,-1.8)(223,-1.9)(224,-1.7)(225,-1.55)(226,-1.35)(227,-1.35)(228,-1.25)(229,-1.0)
(230,-1.05)(231,-0.85)(232,-0.7)(233,-0.65)(234,-0.6)(235,-0.5)(236,-0.45)(237,-0.3)(238,-0.25)(239,-0.2)
(240,-0.15)(241,-0.1)(242,-0.2)(243,-0.15)(244,-0.2)(245,-0.3)(246,-0.25)(247,-0.1)(248,-0.05)(249,0.05)
(250,0.1)(251,-0.05)(252,-0.1)(253,-0.1)(254,-0.05)(255,-0.1)(256,-0.1)(257,-0.25)(258,-0.2)(259,-0.15)(260,-0.2)};
\addplot[cD] coordinates {
(190,1.1)(191,1.4)(192,1.6)(193,1.7)(194,1.75)(195,1.7)(196,1.7)(197,1.7)(198,1.45)(199,1.35)
(200,1.3)(201,1.15)(202,0.8)(203,0.55)(204,0.25)(205,-0.05)(206,-0.35)(207,-0.65)(208,-0.9)(209,-1.05)
(210,-1.15)(211,-1.2)(212,-1.25)(213,-1.3)(214,-1.35)(215,-1.35)(216,-1.45)(217,-1.4)(218,-1.35)(219,-1.35)
(220,-1.3)(221,-1.25)(222,-1.1)(223,-1.05)(224,-1.0)(225,-0.9)(226,-0.8)(227,-0.75)(228,-0.65)(229,-0.65)
(230,-0.5)(231,-0.45)(232,-0.35)(233,-0.35)(234,-0.35)(235,-0.3)(236,-0.3)(237,-0.25)(238,-0.25)(239,-0.2)
(240,-0.1)(241,-0.05)(242,-0.05)(243,-0.05)(244,-0.05)(245,0)(246,0)(247,0)(248,0)(249,0)
(250,0)(251,0)(252,0.05)(253,0)(254,0)(255,-0.05)(256,-0.05)(257,-0.1)(258,-0.05)(259,-0.05)(260,-0.05)};
\legend{0 min,20 min,3 day,7 day}
\end{axis}

% ---------------- F ----------------
\begin{axis}[panel, at={(654bp,61bp)}, anchor=south west, width=318bp, height=253bp,
  ymin=-4, ymax=4, ytick={-4,...,4},
  tick label style={font=\fs{13.6}},
  yticklabel style={xshift=-12bp}, xticklabel style={yshift=-25bp},
  legend style={at={(1.053,0.639)}, anchor=north west, font=\fs{15.5}, row sep=16.5bp,
    nodes={inner sep=0pt, text height=10.5bp, text depth=3bp}},
  legend image code/.code={\draw[mark repeat=2,mark phase=2,#1] plot coordinates {(0bp,0bp)(13bp,0bp)(26bp,0bp)};},
  every axis plot/.append style={line width=1.6bp, mark options={solid, line width=0.8bp}},
]
\addplot[cA, mark=square*, mark size=1.9] coordinates {
(190,1.3)(191,1.35)(192,1.3)(193,1.2)(194,1.15)(195,1.1)(196,0.6)(197,0.0)(198,-0.3)(199,-0.4)
(200,-0.5)(201,-0.85)(202,-0.85)(203,-0.95)(204,-1.35)(205,-1.6)(206,-1.6)(207,-1.3)(208,-1.45)(209,-1.5)
(210,-1.45)(211,-1.35)(212,-1.3)(213,-1.2)(214,-1.25)(215,-1.1)(216,-1.0)(217,-1.05)(218,-0.95)(219,-0.9)
(220,-0.8)(221,-0.8)(222,-0.9)(223,-0.85)(224,-0.7)(225,-0.65)(226,-0.75)(227,-0.7)(228,-0.75)(229,-0.8)
(230,-0.7)(231,-0.45)(232,-0.45)(233,-0.5)(234,-0.4)(235,-0.35)(236,-0.25)(237,-0.2)(238,-0.1)(239,-0.2)
(240,-0.2)(241,-0.35)(242,-0.3)(243,-0.2)(244,-0.15)(245,-0.1)(246,-0.15)(247,-0.3)(248,-0.1)(249,-0.05)
(250,-0.05)(251,-0.1)(252,0.0)(253,-0.05)(254,-0.05)(255,-0.1)(256,-0.1)(257,0.0)(258,0.0)(259,0.0)(260,0.0)};
\addplot[cB, mark=triangle*, mark size=2.2] coordinates {
(190,1.8)(191,1.5)(192,1.7)(193,1.6)(194,1.5)(195,1.1)(196,0.7)(197,0.3)(198,-0.1)(199,-0.35)
(200,-0.5)(201,-0.75)(202,-0.9)(203,-1.25)(204,-1.35)(205,-1.4)(206,-1.5)(207,-1.25)(208,-1.4)(209,-1.6)
(210,-1.4)(211,-1.15)(212,-0.95)(213,-1.0)(214,-1.05)(215,-1.2)(216,-1.2)(217,-1.05)(218,-1.1)(219,-1.15)
(220,-1.2)(221,-1.15)(222,-1.05)(223,-0.95)(224,-0.95)(225,-1.05)(226,-1.0)(227,-0.85)(228,-0.75)(229,-0.85)
(230,-0.8)(231,-0.65)(232,-0.55)(233,-0.55)(234,-0.5)(235,-0.45)(236,-0.35)(237,-0.3)(238,-0.2)(239,-0.15)
(240,-0.1)(241,-0.15)(242,-0.1)(243,-0.15)(244,-0.2)(245,-0.1)(246,-0.05)(247,-0.1)(248,-0.05)(249,-0.05)
(250,-0.1)(251,-0.15)(252,-0.25)(253,-0.35)(254,-0.25)(255,-0.3)(256,-0.1)(257,-0.1)(258,-0.15)(259,-0.05)(260,-0.15)};
\addplot[cC, mark=x, mark size=2.5] coordinates {
(190,0.15)(191,0.05)(192,0.1)(193,0.55)(194,0.6)(195,0.35)(196,0.4)(197,0.5)(198,0.55)(199,0.25)
(200,-0.1)(201,-0.25)(202,-0.4)(203,-0.25)(204,-0.35)(205,-0.6)(206,-0.85)(207,-0.7)(208,-0.6)(209,-0.55)
(210,-0.6)(211,-0.65)(212,-0.75)(213,-0.7)(214,-0.65)(215,-0.55)(216,-0.6)(217,-0.45)(218,-0.5)(219,-0.8)
(220,-0.75)(221,-0.6)(222,-0.65)(223,-0.85)(224,-0.65)(225,-0.55)(226,-0.6)(227,-0.7)(228,-0.6)(229,-0.65)
(230,-0.6)(231,-0.5)(232,-0.35)(233,-0.4)(234,-0.35)(235,-0.45)(236,-0.3)(237,-0.25)(238,-0.15)(239,-0.2)
(240,-0.15)(241,-0.1)(242,-0.1)(243,-0.05)(244,-0.05)(245,0.0)(246,0.05)(247,0.1)(248,0.05)(249,0.15)
(250,0.15)(251,0.1)(252,0.2)(253,0.05)(254,0.1)(255,0.1)(256,0.05)(257,0.0)(258,0.0)(259,0.05)(260,0.05)};
\addplot[cD] coordinates {
(190,-0.2)(191,-0.1)(192,0.3)(193,0.55)(194,0.5)(195,0.55)(196,0.7)(197,0.45)(198,0.3)(199,0.35)
(200,0.4)(201,0.25)(202,0.05)(203,0.15)(204,0.2)(205,0.15)(206,0.0)(207,-0.2)(208,-0.2)(209,-0.1)
(210,-0.15)(211,0.0)(212,0.05)(213,-0.1)(214,-0.15)(215,-0.2)(216,-0.25)(217,-0.25)(218,-0.25)(219,-0.3)
(220,-0.3)(221,-0.3)(222,-0.3)(223,-0.3)(224,-0.25)(225,-0.25)(226,-0.3)(227,-0.3)(228,-0.3)(229,-0.3)
(230,-0.25)(231,-0.2)(232,-0.15)(233,-0.15)(234,-0.1)(235,-0.1)(236,-0.1)(237,-0.05)(238,-0.05)(239,-0.05)
(240,0.0)(241,0.05)(242,0.05)(243,0.05)(244,0.05)(245,0.0)(246,0.0)(247,0.0)(248,0.0)(249,-0.05)
(250,0.0)(251,0.0)(252,0.0)(253,0.0)(254,0.0)(255,0.0)(256,0.0)(257,0.0)(258,0.0)(259,0.0)(260,0.0)};
\legend{0 min,20 min,3 day,7 day}
\end{axis}

% ---------------- titles and labels ----------------
\node[ttl] at (115bp,918bp) {A};
\node[ttl] at (148bp,918bp) {GL13K\&GL13KR1 in buffer,};
\node[ttl] at (148bp,890bp) {pH 7.4};
\node[ttl] at (687bp,925bp) {B};
\node[ttl] at (720bp,926bp) {GL13K\&GL13KR1 in buffer,};
\node[ttl] at (720bp,897bp) {pH 10.5};
\node[ttl] at (112bp,620bp) {C};
\node[ttl] at (152bp,620bp) {GL13K with pH shift};
\node[ttl] at (682bp,605bp) {D};
\node[ttl] at (722bp,605bp) {GL13KR1 with pH shift};
\node[ttl] at (107bp,284bp) {E};
\node[ttl] at (157bp,283bp) {GL13K coating on substrate};
\node[ttl] at (664bp,291bp) {F};
\node[ttl] at (716bp,292bp) {GL13KR1 coating on substrate};

\node[ylb] at (28bp,836bp) {\ylab};
\node[ylb] at (603.5bp,839bp) {\ylab};
\node[ylb] at (30bp,520bp) {\ylab};
\node[ylb] at (603.5bp,516bp) {\ylab};
\node[ylb] at (29bp,186bp) {\ylab};
\node[ylb] at (603bp,188bp) {\ylab};

\node[xlb] at (238bp,661.4bp) {Wavelength (nm)};
\fill[white] (95bp,653bp) rectangle (400bp,664.5bp);
\node[xlb] at (813bp,656bp) {Wavelength (nm)};
\node[xlb] at (233bp,340bp) {Wavelength (nm)};
\node[xlb] at (795bp,338bp) {Wavelength (nm)};
\node[xlb] at (237bp,7bp) {Wavelength (nm)};
\node[xlb] at (802bp,7bp) {Wavelength (nm)};
\end{tikzpicture}
\end{document}
